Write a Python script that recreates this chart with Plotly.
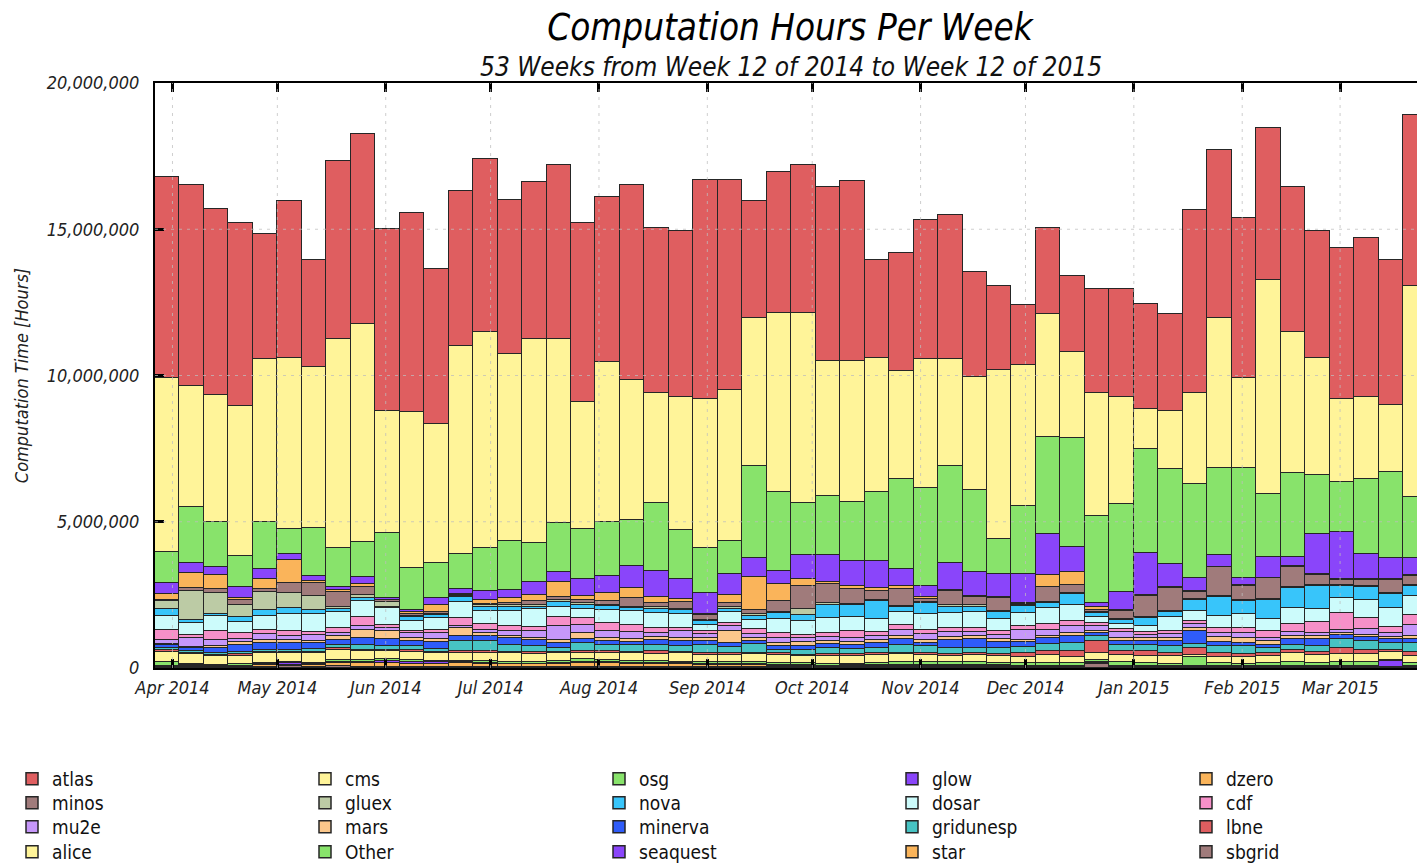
import plotly.graph_objects as go

# ---------------- data (values in millions of hours per week) ----------------
WEEK_START = [
    "2014-03-27", "2014-04-03", "2014-04-10", "2014-04-17", "2014-04-24",
    "2014-05-01", "2014-05-08", "2014-05-15", "2014-05-22", "2014-05-29",
    "2014-06-05", "2014-06-12", "2014-06-19", "2014-06-26", "2014-07-03",
    "2014-07-10", "2014-07-17", "2014-07-24", "2014-07-31", "2014-08-07",
    "2014-08-14", "2014-08-21", "2014-08-28", "2014-09-04", "2014-09-11",
    "2014-09-18", "2014-09-25", "2014-10-02", "2014-10-09", "2014-10-16",
    "2014-10-23", "2014-10-30", "2014-11-06", "2014-11-13", "2014-11-20",
    "2014-11-27", "2014-12-04", "2014-12-11", "2014-12-18", "2014-12-25",
    "2015-01-01", "2015-01-08", "2015-01-15", "2015-01-22", "2015-01-29",
    "2015-02-05", "2015-02-12", "2015-02-19", "2015-02-26", "2015-03-05",
    "2015-03-12", "2015-03-19",
]

ATLAS = [6.9, 6.85, 6.35, 6.25, 4.3, 5.35, 3.65, 6.1, 6.5, 6.2,
         6.8, 5.3, 5.3, 5.9, 5.25, 5.35, 5.95, 6.1, 5.65, 6.65,
         5.65, 5.7, 7.5, 7.2, 4.0, 4.8, 5.05, 5.95, 6.15, 3.35,
         4.05, 4.75, 4.95, 3.6, 2.85, 2.05, 2.95, 2.6, 3.55, 3.7,
         3.6, 3.3, 6.25, 5.75, 5.5, 5.2, 4.95, 4.35, 5.15, 5.45,
         4.95, 5.85]
CMS = [5.92, 4.13, 4.35, 5.12, 5.55, 5.86, 5.5, 7.16, 7.45, 4.2,
       5.34, 4.77, 7.1, 7.41, 6.41, 6.97, 6.3, 4.36, 5.45, 4.79,
       3.77, 4.53, 5.11, 5.16, 5.05, 6.12, 6.52, 4.62, 4.81, 4.57,
       3.7, 4.39, 3.65, 3.85, 5.8, 4.8, 4.2, 2.95, 4.2, 3.65,
       1.35, 2.0, 3.1, 5.1, 3.05, 7.3, 4.85, 4.0, 2.84, 2.8,
       2.3, 7.2]
OSG = [1.06, 1.94, 1.54, 1.07, 1.62, 0.84, 1.64, 1.32, 1.2, 2.2,
       1.43, 1.18, 1.19, 1.45, 1.67, 1.34, 1.66, 1.69, 1.87, 1.57,
       2.3, 1.69, 1.51, 1.14, 3.15, 2.7, 1.78, 2.03, 2.02, 2.36,
       3.08, 3.36, 3.3, 2.81, 1.19, 2.34, 3.32, 3.72, 2.97, 2.99,
       3.56, 3.24, 3.22, 2.99, 3.77, 2.17, 2.84, 2.02, 1.7, 2.55,
       2.95, 2.1]
GLOW = [0.38, 0.34, 0.28, 0.38, 0.32, 0.22, 0.2, 0.1, 0.24, 0.06,
        0.08, 0.26, 0.17, 0.3, 0.29, 0.45, 0.35, 0.6, 0.55, 0.76,
        0.9, 0.68, 0.74, 0.72, 0.65, 0.45, 0.8, 0.9, 0.85, 0.93,
        0.58, 0.37, 0.92, 0.83, 0.79, 0.99, 1.4, 0.84, 0.15, 0.64,
        1.44, 0.79, 0.46, 0.39, 0.25, 0.69, 0.32, 1.37, 1.63, 0.86,
        0.71, 0.57]
DZERO = [0.2, 0.5, 0.48, 0.04, 0.35, 0.78, 0.06, 0.06, 0.08, 0.03,
         0.07, 0.22, 0.04, 0.14, 0.16, 0.2, 0.5, 0.12, 0.3, 0.35,
         0.2, 0.08, 0.04, 0.26, 1.12, 0.6, 0.25, 0.08, 0.12, 0.12,
         0.08, 0.08, 0.04, 0.03, 0.04, 0.03, 0.42, 0.44, 0.1, 0.03,
         0.03, 0.03, 0.02, 0.02, 0.02, 0.02, 0.03, 0.03, 0.02, 0.03,
         0.03, 0.05]
MINOS = [0.06, 0.1, 0.15, 0.18, 0.12, 0.34, 0.45, 0.52, 0.3, 0.06,
         0.05, 0.06, 0.04, 0.06, 0.08, 0.15, 0.12, 0.12, 0.12, 0.3,
         0.14, 0.24, 0.15, 0.14, 0.15, 0.35, 0.78, 0.66, 0.5, 0.3,
         0.6, 0.08, 0.5, 0.28, 0.42, 0.04, 0.5, 0.28, 0.06, 0.26,
         0.74, 0.8, 0.25, 1.0, 0.48, 0.7, 0.7, 0.34, 0.18, 0.22,
         0.44, 0.3]
GLUEX = [0.25, 1.0, 0.7, 0.4, 0.6, 0.5, 0.45, 0.08, 0.1, 0.15,
         0.04, 0.06, 0.03, 0.04, 0.04, 0.04, 0.06, 0.05, 0.04, 0.04,
         0.06, 0.05, 0.04, 0.05, 0.04, 0.04, 0.2, 0.05, 0.05, 0.04,
         0.04, 0.04, 0.06, 0.05, 0.04, 0.03, 0.05, 0.04, 0.04, 0.03,
         0.03, 0.03, 0.03, 0.03, 0.03, 0.03, 0.03, 0.02, 0.02, 0.03,
         0.03, 0.03]
NOVA = [0.25, 0.1, 0.08, 0.18, 0.2, 0.22, 0.14, 0.1, 0.08, 0.06,
        0.12, 0.1, 0.16, 0.16, 0.15, 0.08, 0.16, 0.14, 0.14, 0.1,
        0.15, 0.15, 0.15, 0.12, 0.14, 0.2, 0.2, 0.44, 0.4, 0.62,
        0.14, 0.38, 0.2, 0.2, 0.24, 0.24, 0.15, 0.38, 0.14, 0.15,
        0.28, 0.18, 0.36, 0.64, 0.44, 0.68, 0.68, 0.8, 0.4, 0.42,
        0.5, 0.34]
DOSAR = [0.48, 0.42, 0.5, 0.4, 0.5, 0.58, 0.62, 0.55, 0.55, 0.58,
         0.34, 0.4, 0.55, 0.45, 0.5, 0.62, 0.35, 0.3, 0.45, 0.46,
         0.5, 0.45, 0.2, 0.36, 0.32, 0.48, 0.48, 0.52, 0.5, 0.42,
         0.45, 0.55, 0.52, 0.54, 0.42, 0.44, 0.55, 0.55, 0.2, 0.16,
         0.18, 0.45, 0.36, 0.42, 0.5, 0.4, 0.55, 0.44, 0.54, 0.62,
         0.64, 0.66]
CDF = [0.35, 0.1, 0.3, 0.18, 0.12, 0.15, 0.12, 0.15, 0.3, 0.1,
       0.1, 0.1, 0.3, 0.18, 0.2, 0.14, 0.3, 0.24, 0.26, 0.26,
       0.18, 0.12, 0.1, 0.12, 0.18, 0.2, 0.12, 0.14, 0.22, 0.15,
       0.18, 0.14, 0.14, 0.14, 0.14, 0.14, 0.2, 0.15, 0.12, 0.12,
       0.1, 0.12, 0.1, 0.18, 0.16, 0.22, 0.26, 0.38, 0.56, 0.4,
       0.22, 0.32]
MU2E = [0.12, 0.3, 0.22, 0.12, 0.22, 0.16, 0.18, 0.12, 0.16, 0.1,
        0.14, 0.2, 0.06, 0.12, 0.15, 0.22, 0.48, 0.3, 0.25, 0.22,
        0.15, 0.24, 0.14, 0.18, 0.12, 0.14, 0.12, 0.14, 0.14, 0.14,
        0.22, 0.2, 0.16, 0.14, 0.14, 0.34, 0.2, 0.26, 0.14, 0.2,
        0.12, 0.12, 0.14, 0.12, 0.18, 0.1, 0.16, 0.12, 0.1, 0.18,
        0.12, 0.4]
MARS = [0.05, 0.05, 0.06, 0.08, 0.08, 0.1, 0.1, 0.12, 0.28, 0.26,
        0.1, 0.1, 0.25, 0.08, 0.08, 0.08, 0.1, 0.2, 0.1, 0.1,
        0.1, 0.1, 0.1, 0.4, 0.1, 0.12, 0.15, 0.1, 0.1, 0.1,
        0.08, 0.1, 0.1, 0.1, 0.1, 0.08, 0.1, 0.1, 0.08, 0.1,
        0.1, 0.1, 0.08, 0.18, 0.16, 0.14, 0.1, 0.08, 0.08, 0.08,
        0.08, 0.08]
MINERVA = [0.1, 0.1, 0.18, 0.25, 0.25, 0.24, 0.2, 0.18, 0.24, 0.24,
           0.2, 0.25, 0.2, 0.2, 0.24, 0.2, 0.2, 0.12, 0.15, 0.12,
           0.16, 0.17, 0.15, 0.12, 0.12, 0.15, 0.15, 0.15, 0.14, 0.15,
           0.22, 0.12, 0.28, 0.3, 0.2, 0.15, 0.18, 0.24, 0.1, 0.12,
           0.12, 0.2, 0.45, 0.12, 0.1, 0.1, 0.2, 0.26, 0.15, 0.12,
           0.12, 0.16]
GRIDUNESP = [0.08, 0.05, 0.06, 0.08, 0.08, 0.07, 0.08, 0.12, 0.14, 0.14,
             0.14, 0.1, 0.33, 0.33, 0.22, 0.22, 0.12, 0.28, 0.18, 0.22,
             0.22, 0.2, 0.27, 0.22, 0.28, 0.1, 0.15, 0.2, 0.18, 0.18,
             0.26, 0.22, 0.2, 0.18, 0.2, 0.22, 0.26, 0.28, 0.16, 0.22,
             0.22, 0.22, 0.15, 0.26, 0.28, 0.18, 0.16, 0.18, 0.3, 0.34,
             0.24, 0.28]
LBNE = [0.05, 0.03, 0.04, 0.07, 0.04, 0.04, 0.06, 0.04, 0.06, 0.05,
        0.04, 0.04, 0.06, 0.05, 0.05, 0.05, 0.05, 0.06, 0.08, 0.06,
        0.08, 0.05, 0.05, 0.06, 0.05, 0.05, 0.05, 0.05, 0.05, 0.06,
        0.05, 0.08, 0.06, 0.06, 0.06, 0.12, 0.14, 0.18, 0.44, 0.14,
        0.16, 0.1, 0.25, 0.12, 0.1, 0.1, 0.12, 0.12, 0.2, 0.12,
        0.08, 0.14]
ALICE = [0.35, 0.34, 0.3, 0.28, 0.32, 0.28, 0.32, 0.36, 0.3, 0.26,
         0.3, 0.28, 0.28, 0.3, 0.3, 0.28, 0.26, 0.22, 0.22, 0.26,
         0.25, 0.28, 0.25, 0.25, 0.28, 0.28, 0.24, 0.28, 0.27, 0.28,
         0.28, 0.22, 0.22, 0.24, 0.24, 0.22, 0.26, 0.22, 0.24, 0.24,
         0.24, 0.28, 0.06, 0.22, 0.24, 0.26, 0.3, 0.26, 0.28, 0.28,
         0.26, 0.24]
OTHER = [0.13, 0.05, 0.04, 0.06, 0.04, 0.04, 0.03, 0.05, 0.06, 0.08,
         0.06, 0.04, 0.05, 0.06, 0.06, 0.06, 0.08, 0.08, 0.1, 0.08,
         0.06, 0.06, 0.06, 0.07, 0.06, 0.08, 0.06, 0.06, 0.06, 0.07,
         0.08, 0.12, 0.1, 0.1, 0.08, 0.1, 0.1, 0.1, 0.05, 0.12,
         0.1, 0.08, 0.3, 0.1, 0.08, 0.1, 0.14, 0.12, 0.14, 0.14,
         0.04, 0.12]
SEAQUEST = [0.03, 0.04, 0.03, 0.02, 0.05, 0.07, 0.05, 0.04, 0.04, 0.05,
            0.05, 0.04, 0.03, 0.03, 0.03, 0.03, 0.04, 0.04, 0.03, 0.03,
            0.03, 0.03, 0.03, 0.03, 0.03, 0.03, 0.03, 0.03, 0.03, 0.03,
            0.03, 0.03, 0.03, 0.03, 0.03, 0.02, 0.02, 0.02, 0.03, 0.02,
            0.02, 0.02, 0.02, 0.02, 0.02, 0.02, 0.02, 0.02, 0.02, 0.02,
            0.22, 0.02]
STAR = [0.02, 0.03, 0.02, 0.02, 0.04, 0.05, 0.05, 0.12, 0.12, 0.14,
        0.1, 0.1, 0.12, 0.1, 0.08, 0.08, 0.08, 0.14, 0.13, 0.1,
        0.12, 0.1, 0.08, 0.07, 0.08, 0.04, 0.04, 0.03, 0.04, 0.04,
        0.05, 0.04, 0.04, 0.04, 0.04, 0.03, 0.03, 0.03, 0.03, 0.03,
        0.03, 0.02, 0.02, 0.02, 0.02, 0.02, 0.02, 0.02, 0.02, 0.02,
        0.01, 0.02]
SBGRID = [0.02, 0.03, 0.02, 0.02, 0.05, 0.06, 0.05, 0.06, 0.05, 0.04,
          0.05, 0.05, 0.04, 0.04, 0.04, 0.04, 0.04, 0.04, 0.03, 0.03,
          0.03, 0.03, 0.03, 0.03, 0.03, 0.02, 0.03, 0.02, 0.02, 0.04,
          0.03, 0.03, 0.03, 0.03, 0.03, 0.02, 0.02, 0.02, 0.15, 0.03,
          0.03, 0.02, 0.03, 0.02, 0.02, 0.02, 0.02, 0.02, 0.02, 0.02,
          0.01, 0.02]

# legend order (row-major across 5 legend columns); stacking bottom = last name
SERIES_ORDER = ["atlas", "cms", "osg", "glow", "dzero",
                "minos", "gluex", "nova", "dosar", "cdf",
                "mu2e", "mars", "minerva", "gridunesp", "lbne",
                "alice", "Other", "seaquest", "star", "sbgrid"]
VALUES = {
    "atlas": ATLAS, "cms": CMS, "osg": OSG, "glow": GLOW, "dzero": DZERO,
    "minos": MINOS, "gluex": GLUEX, "nova": NOVA, "dosar": DOSAR, "cdf": CDF,
    "mu2e": MU2E, "mars": MARS, "minerva": MINERVA, "gridunesp": GRIDUNESP,
    "lbne": LBNE, "alice": ALICE, "Other": OTHER, "seaquest": SEAQUEST,
    "star": STAR, "sbgrid": SBGRID,
}
MONTH_TICKS = ["2014-04-01", "2014-05-01", "2014-06-01", "2014-07-01",
               "2014-08-01", "2014-09-01", "2014-10-01", "2014-11-01",
               "2014-12-01", "2015-01-01", "2015-02-01", "2015-03-01"]
Y_TICKS = [0, 5_000_000, 10_000_000, 15_000_000, 20_000_000]

# ---------------- styles ----------------
COLORS = {
    "atlas": "#DF5E60", "cms": "#FFF499", "osg": "#88E36B", "glow": "#8A45FA",
    "dzero": "#FAB45A", "minos": "#A07B7B", "gluex": "#BCCBA5", "nova": "#38C5FA",
    "dosar": "#CCFBFB", "cdf": "#F690C8", "mu2e": "#C697FA", "mars": "#FBC78B",
    "minerva": "#2F5CF9", "gridunesp": "#47C3C3", "lbne": "#DF5E60",
    "alice": "#FFF499", "Other": "#88E36B", "seaquest": "#8A45FA",
    "star": "#FAB45A", "sbgrid": "#A07B7B",
}
FONT = "DejaVu Sans Condensed, DejaVu Sans, sans-serif"
WEEK_MS = 7 * 24 * 3600 * 1000
LEG_X_PX = [12, 305, 599, 892, 1186]
LEG_ROW_Y_PX = [779, 803, 827, 852]
LEG_FONT = 19
W, H = 1417, 865
ML, MR, MT, MB = 155, 0, 83, 197
PW, PH = W - ML - MR, H - MT - MB

fig = go.Figure()
legends = {}
for k in reversed(range(len(SERIES_ORDER))):
    name = SERIES_ORDER[k]
    col, row = k % 5, k // 5
    key = "legend" if k == 0 else f"legend{k + 1}"
    fig.add_trace(go.Bar(
        x=WEEK_START,
        y=[v * 1_000_000 for v in VALUES[name]],
        name=name,
        offset=0,
        width=WEEK_MS,
        marker=dict(color=COLORS[name], line=dict(color="#262626", width=1.5)),
        legend=key,
        hovertemplate="%{x|%b %d %Y}<br>" + name + ": %{y:,.0f}<extra></extra>",
    ))
    top_px = LEG_ROW_Y_PX[row] - 19
    legends[key] = dict(
        x=(LEG_X_PX[col] - ML) / PW, y=(MT + PH - top_px) / PH,
        xanchor="left", yanchor="top", orientation="v",
        font=dict(family=FONT, size=LEG_FONT, color="#111"),
        bgcolor="rgba(0,0,0,0)", borderwidth=0,
        itemclick=False, itemdoubleclick=False,
    )

# dotted grid drawn above the bars, at the axis tick values
GRID_LINE = dict(color="rgba(190,190,190,0.75)", width=1, dash="3px,5px")
shapes = []
for m in MONTH_TICKS:
    shapes.append(dict(type="line", xref="x", yref="paper", x0=m, x1=m, y0=0, y1=1,
                       line=GRID_LINE, layer="above"))
for yv in Y_TICKS[1:-1]:
    shapes.append(dict(type="line", xref="paper", yref="y", x0=0, x1=1, y0=yv, y1=yv,
                       line=GRID_LINE, layer="above"))

fig.update_layout(
    width=W, height=H,
    margin=dict(l=ML, r=MR, t=MT, b=MB, autoexpand=False),
    paper_bgcolor="white", plot_bgcolor="white",
    barmode="stack", bargap=0,
    showlegend=True,
    title=dict(text="Computation Hours Per Week", x=790 / W, xanchor="center",
               y=1 - 27 / H, yanchor="middle", xref="container", yref="container",
               font=dict(family=FONT, size=36.5, style="italic", color="#000")),
    xaxis=dict(
        type="date", range=["2014-03-27", "2015-03-23"],
        tickvals=MONTH_TICKS, tickformat="%b %Y",
        ticks="inside", ticklen=9, tickwidth=3, tickcolor="#000",
        showline=True, linecolor="#000", linewidth=2, mirror="ticks",
        showgrid=False, zeroline=False, ticklabelstandoff=2,
        tickfont=dict(family=FONT, size=18, style="italic", color="#222"),
        fixedrange=True,
    ),
    yaxis=dict(
        range=[0, 20_000_000], tickvals=Y_TICKS, tickformat=",d",
        ticks="inside", ticklen=9, tickwidth=3, tickcolor="#000",
        showline=True, linecolor="#000", linewidth=2, mirror=False,
        showgrid=False, zeroline=False, ticklabelstandoff=10,
        tickfont=dict(family=FONT, size=18, style="italic", color="#222"),
        title=dict(text="Computation Time [Hours]", standoff=13,
                   font=dict(family=FONT, size=18, style="italic", color="#222")),
        automargin=False, fixedrange=True,
    ),
    shapes=shapes,
    annotations=[dict(
        text="53 Weeks from Week 12 of 2014 to Week 12 of 2015",
        xref="paper", yref="paper", x=(791 - ML) / PW, y=(MT + PH - 67) / PH,
        xanchor="center", yanchor="middle", showarrow=False,
        font=dict(family=FONT, size=26, style="italic", color="#111"),
    )],
    **legends,
)

fig.write_html(
    "out.html",
    config={"displayModeBar": False},
    post_script="document.body.style.margin='0px';document.body.style.overflow='hidden';",
)
